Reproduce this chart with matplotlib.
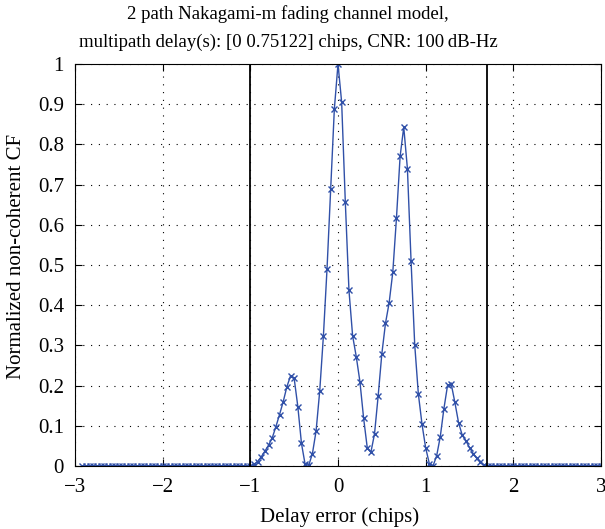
import numpy as np
import matplotlib
matplotlib.use("Agg")
import matplotlib.pyplot as plt

# delay grid is k/24 chips, k = -70 .. 72
k_vals = np.arange(-70, 73)
delay = k_vals / 24.0

# non-zero part of the correlation function, k = -24 .. 40
cf_mid = [
    0.000, 0.004, 0.011, 0.023, 0.037, 0.052, 0.070, 0.098, 0.128, 0.160,
    0.197, 0.224, 0.218, 0.148, 0.056, 0.004, 0.002, 0.031, 0.087, 0.187,
    0.323, 0.491, 0.688, 0.888, 1.000, 0.905, 0.657, 0.437, 0.324, 0.272,
    0.210, 0.120, 0.046, 0.034, 0.080, 0.175, 0.279, 0.355, 0.406, 0.482,
    0.616, 0.770, 0.843, 0.740, 0.510, 0.302, 0.179, 0.104, 0.045, 0.006,
    0.000, 0.025, 0.073, 0.143, 0.201, 0.204, 0.158, 0.108, 0.077, 0.063,
    0.046, 0.031, 0.019, 0.010, 0.002,
]
cf = np.zeros(len(k_vals))
start = list(k_vals).index(-24)
cf[start:start + len(cf_mid)] = cf_mid

window_edges = [-1.0, 1.7]
xtick_labels = ["\u22123", "\u22122", "\u22121", "0", "1", "2", "3"]
ytick_labels = ["0", "0.1", "0.2", "0.3", "0.4", "0.5", "0.6", "0.7", "0.8", "0.9", "1"]

plt.rcParams["font.family"] = ["Liberation Serif", "DejaVu Serif"]

W, H = 605, 529
fig = plt.figure(figsize=(W / 100, H / 100), dpi=100)
ax = fig.add_axes([75 / W, 1 - 466 / H, 526 / W, 402 / H])

ax.plot(delay, cf, color="#3050a8", lw=1.0, marker="x", ms=4.5, mew=1.0)
for xe in window_edges:
    ax.plot([xe, xe], [0, 1], color="black", lw=1.3)

ax.set_xlim(-3, 3)
ax.set_ylim(0, 1)
ax.set_xticks(np.arange(-3, 4, 1))
ax.set_xticklabels(xtick_labels)
ax.set_yticks(np.round(np.arange(0, 1.01, 0.1), 1))
ax.set_yticklabels(ytick_labels)
ax.tick_params(direction="in", top=True, right=True, labelsize=15, length=5)
ax.tick_params(axis="x", pad=9)
ax.tick_params(axis="y", pad=8)
ax.grid(True, linestyle=(0, (1, 6)), color="black", lw=0.8)

fig.text(340 / W, 1 - 517 / H, "Delay error (chips)", fontsize=15, ha="center", va="center")
fig.text(17 / W, 1 - 256 / H, "Normalized non-coherent CF", fontsize=15,
         rotation=90, ha="center", va="center")
fig.text(288 / W, 1 - 14 / H, "2 path Nakagami-m fading channel model,",
         fontsize=13.5, ha="center", va="center")
fig.text(288 / W, 1 - 42 / H, "multipath delay(s): [0 0.75122] chips, CNR: 100\u2009dB-Hz",
         fontsize=13.5, ha="center", va="center")

fig.savefig("out.png", dpi=100)
